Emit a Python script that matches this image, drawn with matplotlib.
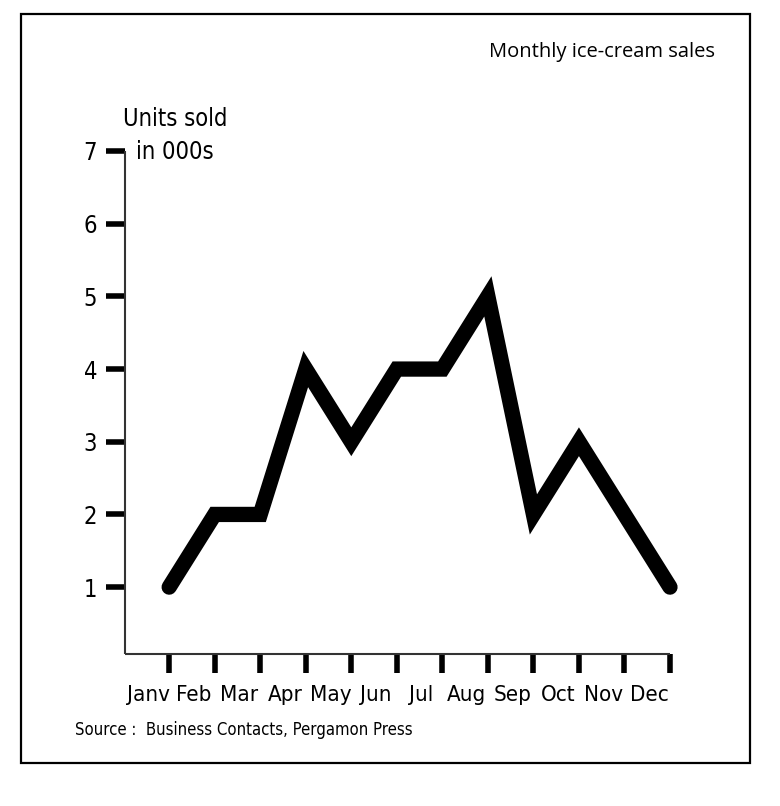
import matplotlib.pyplot as plt
from matplotlib import font_manager

# Données : ventes mensuelles de glaces (milliers d'unités)
mois = ["Janv", "Feb", "Mar", "Apr", "May", "Jun", "Jul", "Aug", "Sep", "Oct", "Nov", "Dec"]
ventes = [1, 2, 2, 4, 3, 4, 4, 5, 2, 3, 2, 1]
graduations_y = [1, 2, 3, 4, 5, 6, 7]

W, H = 780, 806
narrow = font_manager.FontProperties(family="DejaVu Sans", stretch="condensed")

fig = plt.figure(figsize=(W / 100, H / 100), dpi=100)
ax = fig.add_axes([125 / W, (H - 654) / H, (670 - 125) / W, (654 - 151) / H])

x = list(range(len(mois)))
ax.plot(x, ventes, color="black", lw=11, solid_capstyle="round", solid_joinstyle="miter", clip_on=False)

ax.set_xlim(-0.97, len(mois) - 1)
ax.set_ylim(0.08, 7)

for s in ["top", "right"]:
    ax.spines[s].set_visible(False)
for s in ["left", "bottom"]:
    ax.spines[s].set_linewidth(1.5)
    ax.spines[s].set_color("#333333")
    ax.spines[s].set_capstyle("butt")

# graduations x : traits aux mois, libellés décalés à gauche
ax.set_xticks(x, [""] * len(x))
ax.set_xticks([i - 0.46 for i in x], mois, minor=True)
ax.tick_params(axis="x", which="major", length=14, width=4, direction="out", color="black")
ax.tick_params(axis="x", which="minor", length=0, pad=22)
for lab in ax.get_xticklabels(minor=True):
    lab.set_fontproperties(narrow)
    lab.set_fontsize(16)

ax.set_yticks(graduations_y, [str(v) for v in graduations_y])
ax.tick_params(axis="y", length=14, width=4, direction="out", color="black", pad=6)
for lab in ax.get_yticklabels():
    lab.set_fontproperties(narrow)
    lab.set_fontsize(17)

fig.text(175 / W, 1 - 119 / H, "Units sold", ha="center", va="center", fontproperties=narrow, fontsize=17)
fig.text(175 / W, 1 - 152 / H, "in 000s", ha="center", va="center", fontproperties=narrow, fontsize=17)
fig.text(715 / W, 1 - 52 / H, "Monthly ice-cream sales", ha="right", va="center", fontsize=14.5,
         family=["Open Sans", "DejaVu Sans"])
fig.text(75 / W, 1 - 730 / H, "Source :  Business Contacts, Pergamon Press", ha="left", va="center",
         fontproperties=narrow, fontsize=12)

# cadre
cadre = plt.Rectangle((21 / W, 1 - 763 / H), (750 - 21) / W, (763 - 14) / H, transform=fig.transFigure,
                      fill=False, lw=1.6, edgecolor="black")
fig.patches.append(cadre)

fig.savefig("out.png", dpi=100)
